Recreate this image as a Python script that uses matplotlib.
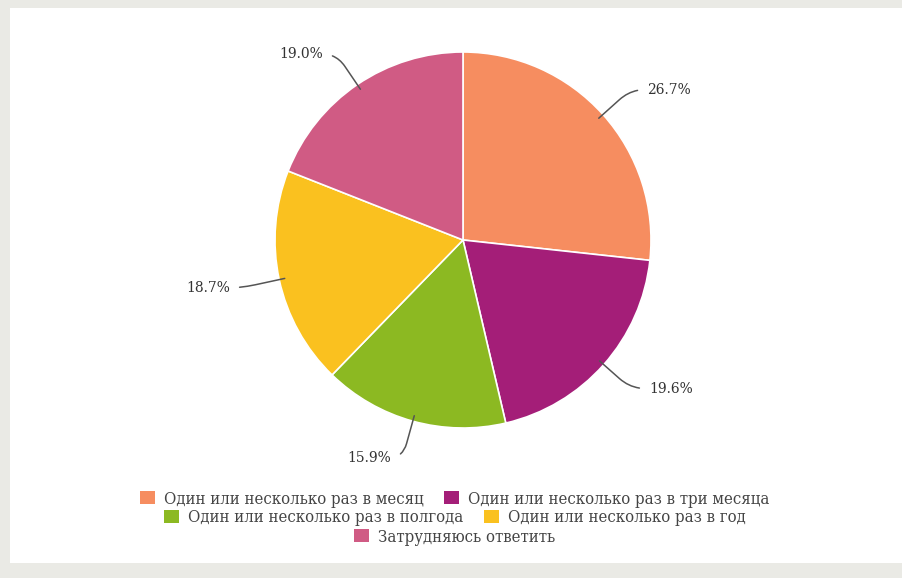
import numpy as np
import matplotlib
matplotlib.use("Agg")
import matplotlib.pyplot as plt
from matplotlib.patches import Patch, Rectangle

# -----------------------------
# Data
# -----------------------------
categories = [
    "Один или несколько раз в месяц",
    "Один или несколько раз в три месяца",
    "Один или несколько раз в полгода",
    "Один или несколько раз в год",
    "Затрудняюсь ответить",
]
shares = [26.7, 19.6, 15.9, 18.7, 19.0]

# -----------------------------
# Style
# -----------------------------
COLORS = ["#f68d60", "#a41e78", "#8cb922", "#fac11f", "#d05b84"]
BG = "#eaeae5"

# label anchor positions (pie radius = 1) and alignment
LABEL_POS = [(0.98, 0.80, "left"), (0.99, -0.79, "left"),
             (-0.38, -1.16, "right"), (-1.24, -0.255, "right"),
             (-0.745, 0.99, "right")]

W, H = 902, 578
fig = plt.figure(figsize=(W / 100, H / 100), dpi=100, facecolor=BG)

# white panel
fig.patches.append(Rectangle((10 / W, (H - 563) / H), (W - 10) / W, (563 - 8) / H,
                             transform=fig.transFigure, facecolor="white",
                             edgecolor="none", zorder=-5))

# axes: centre at (463, 240) px, radius 188 px
R = 188.0
cx, cy = 463.0, H - 240.0
xl, xr, yb, yt = -1.6, 1.6, -1.3, 1.2
ax = fig.add_axes([(cx + xl * R) / W, (cy + yb * R) / H,
                   (xr - xl) * R / W, (yt - yb) * R / H])
ax.patch.set_visible(False)

wedges, _ = ax.pie(shares, colors=COLORS, startangle=90, counterclock=False,
                   radius=1.0, center=(0, 0), frame=True,
                   wedgeprops=dict(edgecolor="white", linewidth=1.2))
ax.set_xlim(xl, xr)
ax.set_ylim(yb, yt)
ax.set_aspect("auto")
ax.axis("off")

# labels with leader lines (radial segment, rounded bend, short horizontal)
for w, val, (tx, ty, ha) in zip(wedges, shares, LABEL_POS):
    ang = np.deg2rad((w.theta1 + w.theta2) / 2)
    px, py = np.cos(ang), np.sin(ang)
    ax.annotate(f"{val:.1f}%", xy=(px * 0.97, py * 0.97), xytext=(tx, ty),
                ha=ha, va="center", fontsize=10, color="#333333",
                family="DejaVu Serif",
                arrowprops=dict(arrowstyle="-", color="#555555", lw=1.1,
                                shrinkA=5, shrinkB=0,
                                connectionstyle=f"angle,angleA=0,angleB={np.rad2deg(ang):.1f},rad=15"))

# legend, rows centred independently
rows = [[0, 1], [2, 3], [4]]
row_y = [H - 499, H - 518, H - 537]
for idx, yy in zip(rows, row_y):
    handles = [Patch(facecolor=COLORS[i], edgecolor="none") for i in idx]
    leg = fig.legend(handles, [categories[i] for i in idx], loc="center",
                     bbox_to_anchor=(455 / W, yy / H), ncol=len(idx),
                     frameon=False, handlelength=0.9, handleheight=0.8,
                     handletextpad=0.55, columnspacing=1.2,
                     borderpad=0, borderaxespad=0,
                     prop=dict(family="DejaVu Serif", stretch="condensed", size=12))
    for t in leg.get_texts():
        t.set_color("#444444")

fig.savefig("out.png", dpi=100, facecolor=BG)
